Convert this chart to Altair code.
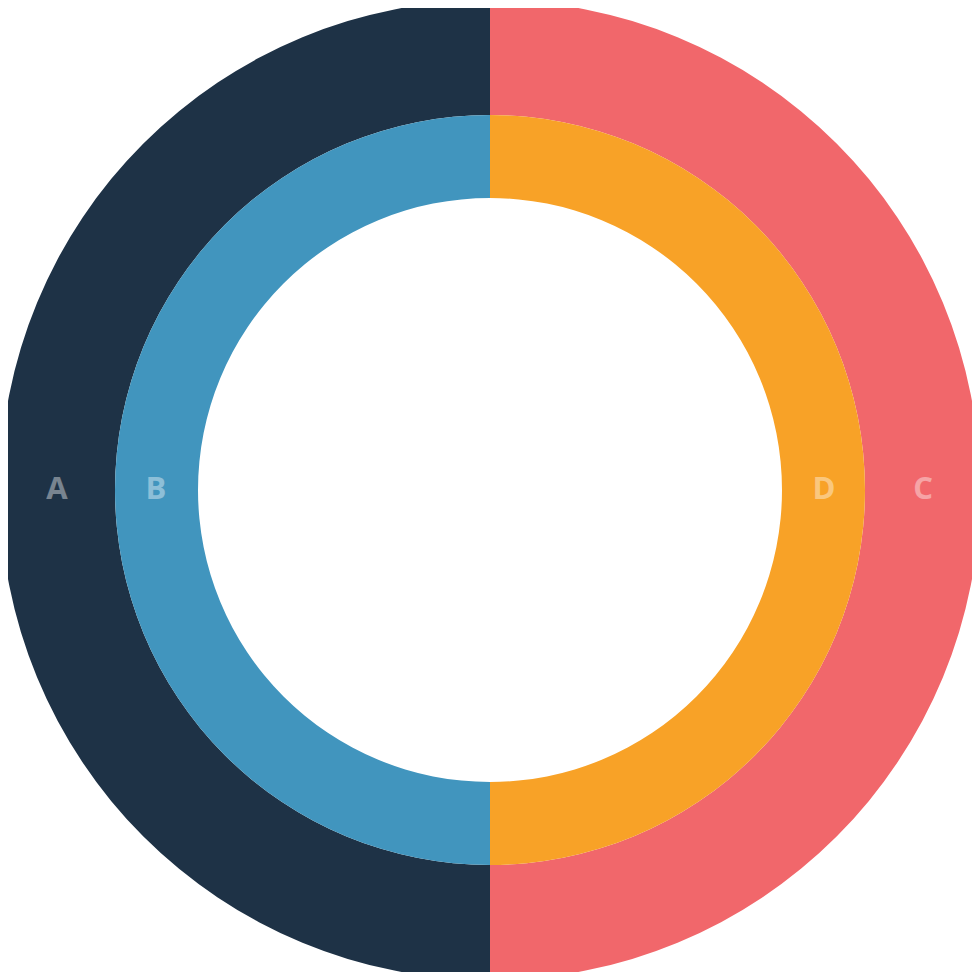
import altair as alt
import pandas as pd

outer_cats = ["C", "A"]
outer_vals = [50, 50]
outer_colors = ["#F1676B", "#1E3246"]

inner_cats = ["D", "B"]
inner_vals = [50, 50]
inner_colors = ["#F8A227", "#4195BE"]

outer = pd.DataFrame({"cat": outer_cats, "val": outer_vals, "order": [0, 1]})
inner = pd.DataFrame({"cat": inner_cats, "val": inner_vals, "order": [0, 1]})

CX, CY = 482, 482

def ring(df, cats, colors, r_out, r_in, r_lab):
    base = alt.Chart(df).encode(
        theta=alt.Theta("val:Q", stack=True),
        order=alt.Order("order:Q"),
        x=alt.value(CX),
        y=alt.value(CY),
    )
    arc = base.mark_arc(outerRadius=r_out, innerRadius=r_in, stroke=None).encode(
        color=alt.Color("cat:N", scale=alt.Scale(domain=cats, range=colors), legend=None)
    )
    txt = base.mark_text(
        radius=r_lab, font="Open Sans", fontWeight="bold", fontSize=31,
        color="white", opacity=0.4, align="center", baseline="middle"
    ).encode(text="cat:N")
    return arc, txt

oa, ot = ring(outer, outer_cats, outer_colors, 490, 375, 433)
ia, it = ring(inner, inner_cats, inner_colors, 375, 292, 334)

chart = alt.layer(oa, ia, ot, it).resolve_scale(color="independent", theta="independent").properties(
    width=964, height=964,
    autosize=alt.AutoSizeParams(type="none"),
    padding=0,
).configure_view(stroke=None)

chart.save("out.html", embed_options={"renderer": "svg", "actions": False})
